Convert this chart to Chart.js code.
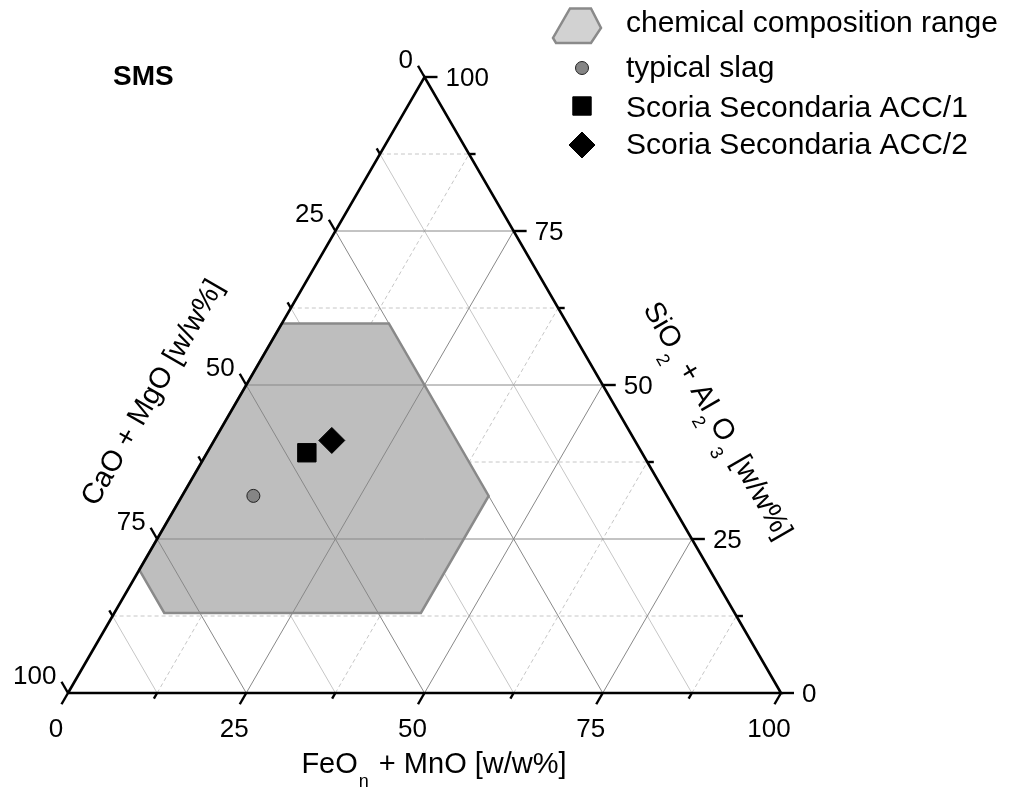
<!DOCTYPE html>
<html>
<head>
<meta charset="utf-8">
<script src="https://cdn.jsdelivr.net/npm/chart.js@4.4.1/dist/chart.umd.min.js"></script>
<style>
html, body { margin: 0; padding: 0; background: #fff; }
canvas { display: block; }
</style>
</head>
<body>
<canvas id="myChart" width="1015" height="787"></canvas>
<script>
// composizioni in % : FeOn+MnO (Fe), SiO2+Al2O3 (Si); CaO+MgO = 100 - Fe - Si
const rangeFe = [0, 15, 43, 43, 7, 0];
const rangeSi = [60, 60, 32, 13, 13, 20];

const slagNames = ['typical slag', 'Scoria Secondaria ACC/1', 'Scoria Secondaria ACC/2'];
const slagFe = [10, 14, 16.5];
const slagSi = [32, 39, 41];

const tickLabels = [0, 25, 50, 75, 100];
const minorTicks = [12.5, 37.5, 62.5, 87.5];

const rangeLabel = 'chemical composition range';
const panelLabel = 'SMS';

// stili dei marker
const slagStyles = ['circle', 'rect', 'rectRot'];
const slagRadius = [6.5, 13, 13];
const slagFill = ['#858585', '#000', '#000'];
const slagBorder = ['#222', '#000', '#000'];

const H = Math.sqrt(3) / 2;
const FONT = '"Liberation Sans", Arial, sans-serif';

// punto ternario -> coordinate x/y del grafico
function tern(fe, si) {
    return { x: fe + si / 2, y: si * H };
}

function lineDs(points, color, width, dash, order) {
    return {
        data: points,
        showLine: true,
        borderColor: color,
        borderWidth: width,
        borderDash: dash,
        pointRadius: 0,
        pointHoverRadius: 0,
        fill: false,
        clip: false,
        tension: 0,
        order: order
    };
}

const datasets = [];

// griglia
const allGrid = [25, 50, 75].concat(minorTicks);
allGrid.forEach(v => {
    const major = v % 25 === 0;
    const col = major ? '#888888' : '#c6c6c6';
    const dash = major ? [] : [4, 3];
    const ord = major ? 2 : 5;
    datasets.push(lineDs([tern(0, v), tern(100 - v, v)], col, 1, dash, ord));      // SiO2 costante
    datasets.push(lineDs([tern(v, 0), tern(v, 100 - v)], col, 1, dash, ord));      // FeOn costante
    datasets.push(lineDs([tern(100 - v, 0), tern(0, 100 - v)], col, 1, [], ord));  // CaO costante
});

// campo di composizione
const rangePts = rangeFe.map((f, i) => tern(f, rangeSi[i]));
rangePts.push(rangePts[0]);
datasets.push({
    data: rangePts,
    showLine: true,
    borderColor: '#8a8a8a',
    borderWidth: 2.5,
    backgroundColor: '#bebebe',
    fill: 'shape',
    pointRadius: 0,
    pointHoverRadius: 0,
    clip: false,
    tension: 0,
    order: 3
});

// bordo del triangolo
datasets.push(lineDs([tern(0, 0), tern(100, 0), tern(0, 100), tern(0, 0)], '#000', 2.6, [], 1));

// scorie
slagNames.forEach((name, i) => {
    datasets.push({
        label: name,
        data: [tern(slagFe[i], slagSi[i])],
        pointStyle: slagStyles[i],
        pointRadius: slagRadius[i],
        pointHoverRadius: slagRadius[i],
        backgroundColor: slagFill[i],
        borderColor: slagBorder[i],
        borderWidth: 1,
        clip: false,
        order: 0
    });
});

function drawRuns(ctx, runs, cx, cy, angle) {
    ctx.save();
    ctx.translate(cx, cy);
    ctx.rotate(angle);
    ctx.textBaseline = 'alphabetic';
    ctx.textAlign = 'left';
    let total = 0;
    runs.forEach(r => {
        ctx.font = (r.sub ? '18px ' : '29px ') + FONT;
        r.w = ctx.measureText(r.t).width + (r.sub ? 3 : 0);
        total += r.w;
    });
    let x = -total / 2;
    runs.forEach(r => {
        ctx.font = (r.sub ? '18px ' : '29px ') + FONT;
        ctx.fillText(r.t, x + (r.sub ? 1 : 0), r.sub ? 14 : 0);
        x += r.w;
    });
    ctx.restore();
}

const ternaryAxes = {
    id: 'ternaryAxes',
    afterDatasetsDraw(chart) {
        const ctx = chart.ctx;
        const sx = chart.scales.x, sy = chart.scales.y;
        const px = p => ({ x: sx.getPixelForValue(p.x), y: sy.getPixelForValue(p.y) });
        const seg = (a, b) => { ctx.beginPath(); ctx.moveTo(a.x, a.y); ctx.lineTo(b.x, b.y); ctx.stroke(); };

        ctx.save();
        ctx.strokeStyle = '#000';
        ctx.fillStyle = '#000';
        ctx.lineWidth = 2.4;
        ctx.font = '26px ' + FONT;

        const ticks = tickLabels.concat(minorTicks);
        ticks.forEach(v => {
            const major = tickLabels.includes(v);
            const len = major ? 13 : 6.5;

            // FeOn + MnO (basso)
            let a = px(tern(v, 0));
            let e = { x: a.x - len * 0.5, y: a.y + len * H };
            seg(a, e);
            if (major) {
                ctx.textAlign = 'center';
                ctx.textBaseline = 'alphabetic';
                ctx.fillText(String(v), e.x - 5.5, e.y + 33);
            }

            // SiO2 + Al2O3 (destra)
            a = px(tern(100 - v, v));
            e = { x: a.x + len, y: a.y };
            seg(a, e);
            if (major) {
                ctx.textAlign = 'left';
                ctx.textBaseline = 'alphabetic';
                ctx.fillText(String(v), e.x + 8, e.y + 8.5);
            }

            // CaO + MgO (sinistra)
            a = px(tern(0, 100 - v));
            e = { x: a.x - len * 0.5, y: a.y - len * H };
            seg(a, e);
            if (major) {
                ctx.textAlign = 'right';
                ctx.textBaseline = 'alphabetic';
                ctx.fillText(String(v), e.x - 5, e.y + 2);
            }
        });

        // titoli degli assi
        drawRuns(ctx, [{ t: 'FeO' }, { t: 'n', sub: true }, { t: ' + MnO [w/w%]' }], 434, 773, 0);
        drawRuns(ctx, [{ t: 'CaO + MgO [w/w%]' }], 160, 397, -Math.PI / 3);
        drawRuns(ctx, [{ t: 'SiO' }, { t: '2', sub: true }, { t: ' + Al' }, { t: '2', sub: true },
                       { t: 'O' }, { t: '3', sub: true }, { t: ' [w/w%]' }], 710, 425, Math.PI / 3);

        // etichetta pannello
        ctx.font = 'bold 28px ' + FONT;
        ctx.textAlign = 'left';
        ctx.textBaseline = 'alphabetic';
        ctx.fillText(panelLabel, 113, 85);

        // legenda
        const lx = 582, tx = 626;
        ctx.beginPath();
        [[570, 8.5], [591, 8.5], [601, 28], [591, 43], [556, 43], [553, 38]].forEach((p, i) => {
            if (i === 0) ctx.moveTo(p[0], p[1]); else ctx.lineTo(p[0], p[1]);
        });
        ctx.closePath();
        ctx.fillStyle = '#d2d2d2';
        ctx.fill();
        ctx.strokeStyle = '#8a8a8a';
        ctx.lineWidth = 2.5;
        ctx.stroke();

        ctx.font = '30px ' + FONT;
        ctx.fillStyle = '#000';
        ctx.fillText(rangeLabel, tx, 32);

        const rowY = [68, 106, 145];
        const baseY = [77, 117, 154];
        slagNames.forEach((name, i) => {
            ctx.fillStyle = slagFill[i];
            ctx.strokeStyle = slagBorder[i];
            ctx.lineWidth = 1;
            Chart.helpers.drawPoint(ctx, { pointStyle: slagStyles[i], radius: slagRadius[i], rotation: 0, borderWidth: 1 }, lx, rowY[i]);
            ctx.fillStyle = '#000';
            ctx.font = '30px ' + FONT;
            ctx.fillText(name, tx, baseY[i]);
        });

        ctx.restore();
    }
};

const ctx = document.getElementById('myChart').getContext('2d');
const myChart = new Chart(ctx, {
    type: 'scatter',
    data: { datasets: datasets },
    options: {
        responsive: false,
        animation: false,
        events: [],
        layout: { padding: { left: 68, right: 234, top: 77, bottom: 94 } },
        scales: {
            x: { type: 'linear', min: 0, max: 100, display: false },
            y: { type: 'linear', min: 0, max: 100 * H, display: false }
        },
        plugins: {
            legend: { display: false },
            tooltip: { enabled: false }
        }
    },
    plugins: [ternaryAxes]
});
</script>
</body>
</html>
